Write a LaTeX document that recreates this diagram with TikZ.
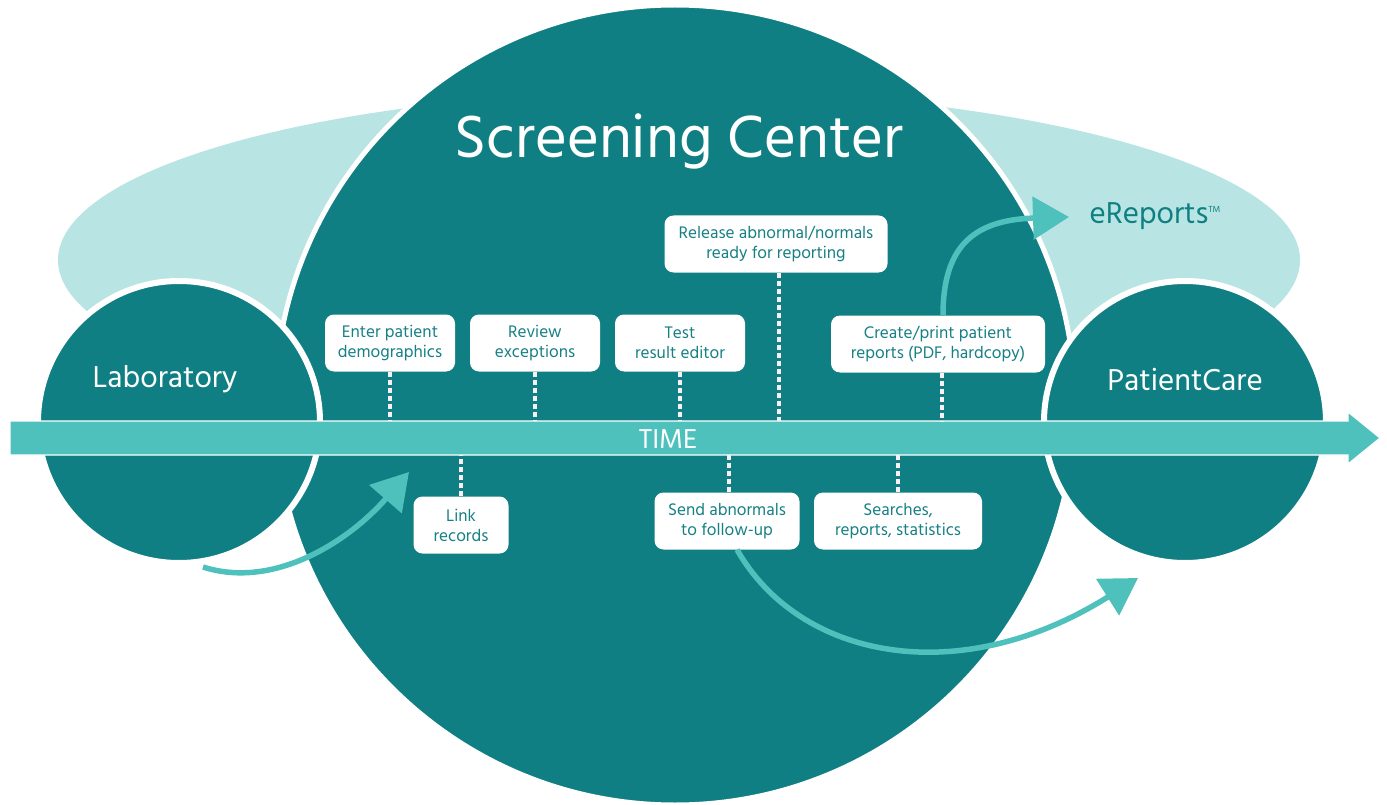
\documentclass[tikz,border=0pt]{standalone}
\usepackage{fontspec}
\setmainfont{Hind Madurai}
\usetikzlibrary{arrows.meta}
\definecolor{darkteal}{RGB}{15,127,131}
\definecolor{lightteal}{RGB}{184,229,227}
\definecolor{midteal}{RGB}{79,193,189}
\definecolor{boxtext}{RGB}{22,128,132}
\definecolor{dashcol}{RGB}{250,240,244}
\tikzset{
  box/.style={fill=white, rounded corners=9pt, align=center, text=boxtext,
    font=\fontsize{17.2}{20}\selectfont, inner sep=0pt, minimum height=57pt},
  biglabel/.style={text=white, font=\fontsize{31}{34}\selectfont},
  dashline/.style={dashcol, line width=3.2pt, dash pattern=on 5pt off 3pt},
  flow/.style={midteal, line width=5.5pt, -{Triangle[length=36pt,width=42pt]}},
}
\begin{document}
\begin{tikzpicture}[x=1pt,y=-1pt]
\path[use as bounding box] (0,0) rectangle (1387,805);
% light ellipse behind
\fill[lightteal] (679,260) ellipse [x radius=621, y radius=169];
% big circle
\draw[white, line width=5pt, fill=darkteal] (675,405) circle [radius=400];
\node[text=white, font=\fontsize{61}{64}\selectfont] (title) at (679,141) {Screening Center};
% side circles
\draw[white, line width=6pt, fill=darkteal] (179,422) circle [radius=141];
\draw[white, line width=6pt, fill=darkteal] (1185,422) circle [radius=141];
\node[biglabel] (lab) at (165,379) {Laboratory};
\node[biglabel] (pc) at (1185,379) {PatientCare};
\node[text=darkteal, font=\fontsize{31}{34}\selectfont] (erep) at (1155,216) {eReports\raisebox{11pt}{\fontsize{9}{9}\selectfont TM}};
% time bar
\draw[white, line width=1.2pt, fill=midteal] (10,421) -- (1348,421) -- (1348,412) -- (1380,438) -- (1348,464) -- (1348,455) -- (10,455) -- cycle;
\coordinate (bartop) at (0,421);
\coordinate (barbot) at (0,455);
\node[text=white, font=\fontsize{28}{30}\selectfont] (time) at (668,439) {TIME};
% boxes
\node[box, minimum width=130pt] (b1) at (390,343) {Enter patient\\demographics};
\node[box, minimum width=130pt] (b2) at (535,343) {Review\\exceptions};
\node[box, minimum width=130pt] (b3) at (680,343) {Test\\result editor};
\node[box, minimum width=223pt] (b4) at (776,244) {Release abnormal/normals\\ready for reporting};
\node[box, minimum width=214pt] (b5) at (938,344) {Create/print patient\\reports (PDF, hardcopy)};
\node[box, minimum width=95pt] (b6) at (461,525) {Link\\records};
\node[box, minimum width=145pt] (b7) at (727,521) {Send abnormals\\to follow-up};
\node[box, minimum width=168pt] (b8) at (898,521) {Searches,\\reports, statistics};
% dashed connectors
\draw[dashline] (b1.south) -- (b1.south |- bartop);
\draw[dashline] (b2.south) -- (b2.south |- bartop);
\draw[dashline] (b3.south) -- (b3.south |- bartop);
\draw[dashline] ([xshift=3pt]b4.south) -- ([xshift=3pt]b4.south |- bartop);
\draw[dashline] ([xshift=4pt]b5.south) -- ([xshift=4pt]b5.south |- bartop);
\draw[dashline] (b6.north) -- (b6.north |- barbot);
\draw[dashline] ([xshift=2pt]b7.north) -- ([xshift=2pt]b7.north |- barbot);
\draw[dashline] (b8.north) -- (b8.north |- barbot);
% curved flows
\coordinate (a1s) at (203,567);
\coordinate (a1e) at (409,472);
\draw[flow] (a1s) .. controls (275,590) and (350,540) .. (a1e);
\coordinate (a2e) at (1069,217);
\draw[flow] ([xshift=5pt]b5.north) .. controls (943,250) and (970,220) .. (a2e);
\coordinate (a3e) at (1138,578);
\draw[flow] ([xshift=10pt]b7.south) .. controls (800,660) and (960,690) .. (a3e);
\end{tikzpicture}
\end{document}
